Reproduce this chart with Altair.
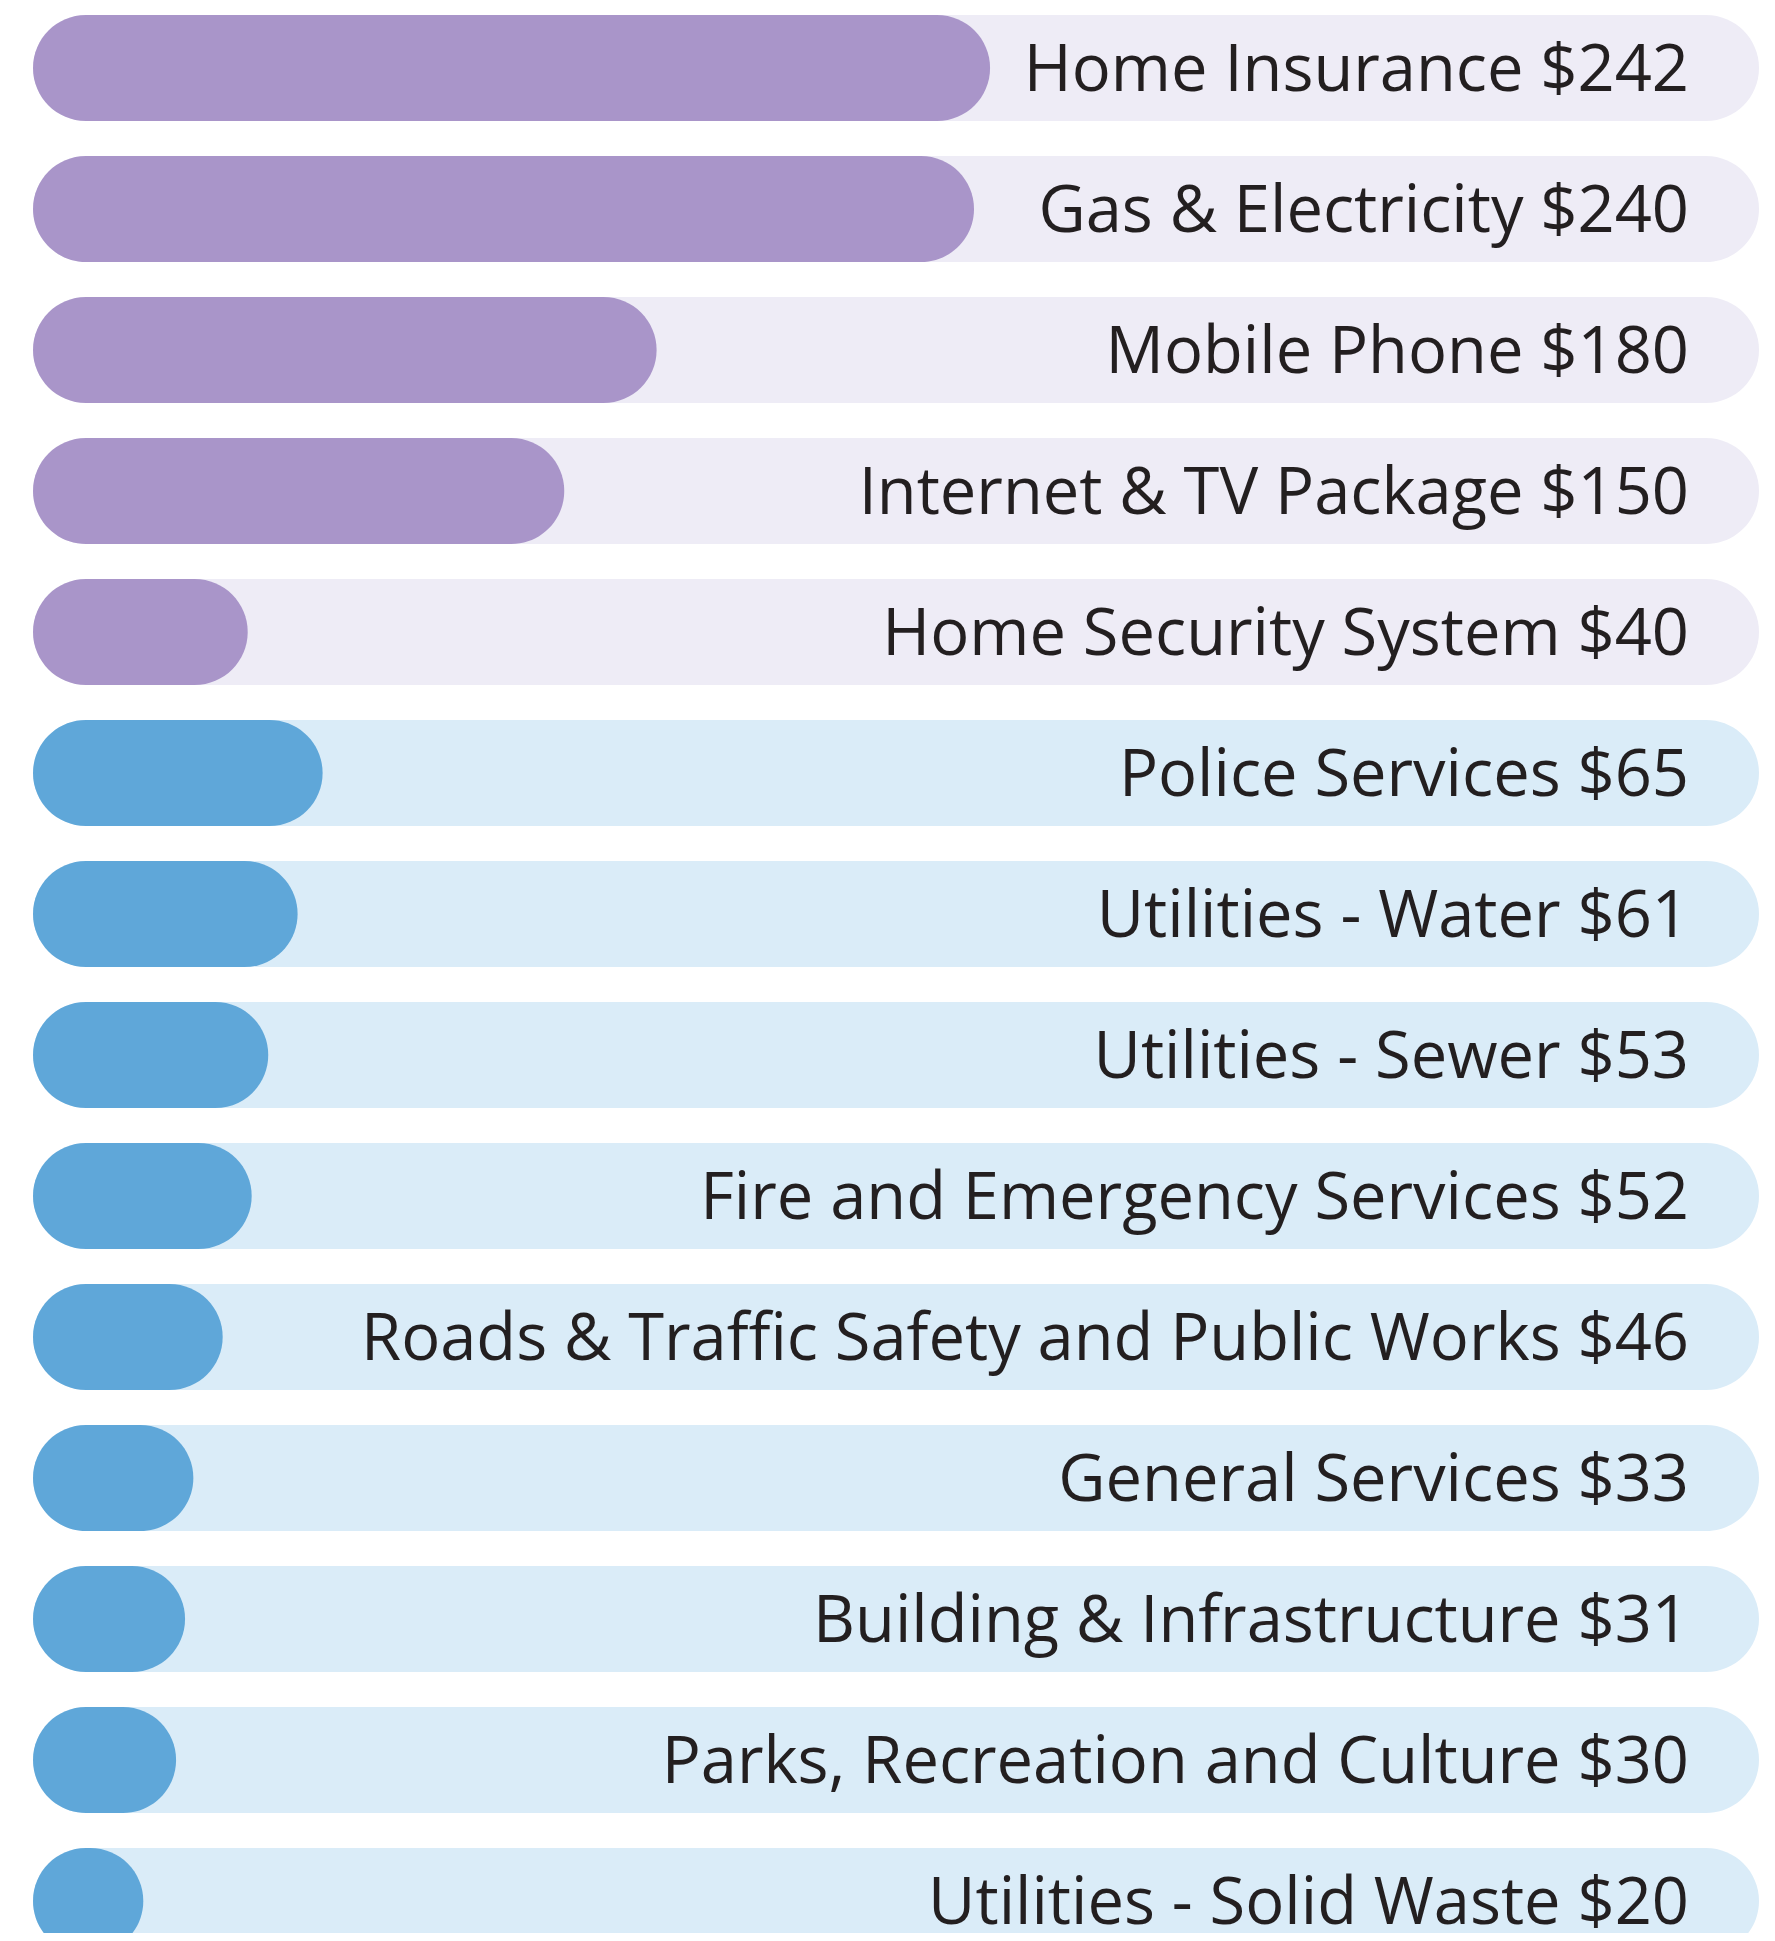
import altair as alt
import pandas as pd

categories = [
    "Home Insurance", "Gas & Electricity", "Mobile Phone", "Internet & TV Package",
    "Home Security System", "Police Services", "Utilities - Water", "Utilities - Sewer",
    "Fire and Emergency Services", "Roads & Traffic Safety and Public Works",
    "General Services", "Building & Infrastructure", "Parks, Recreation and Culture",
    "Utilities - Solid Waste",
]
amounts = [242, 240, 180, 150, 40, 65, 61, 53, 52, 46, 33, 31, 30, 20]
groups = ["Household"] * 5 + ["Municipal"] * 9
# bar fill as a share (%) of the full track
fill_pct = [55.45, 54.52, 36.13, 30.78, 12.44, 16.78, 15.33, 13.63, 12.67,
            10.99, 9.29, 8.81, 8.29, 6.39]
track_pct = [100] * len(categories)

tone_domain = ["Household track", "Municipal track", "Household bar", "Municipal bar"]
tone_colors = ["#EEECF6", "#DAECF8", "#A995C9", "#5FA7D9"]

df = pd.DataFrame({
    "category": categories,
    "amount": amounts,
    "group": groups,
    "share": fill_pct,
    "full": track_pct,
})
df["label"] = df["category"] + " $" + df["amount"].astype(str)
df["order"] = list(range(len(df)))
df["track_tone"] = df["group"] + " track"
df["bar_tone"] = df["group"] + " bar"

y_enc = alt.Y(
    "label:N",
    sort=alt.EncodingSortField(field="order", order="ascending"),
    scale=alt.Scale(range=[0, 1939], paddingInner=0.248, paddingOuter=0),
    axis=None,
)
x_scale = alt.Scale(domain=[0, 100], nice=False, zero=True)
color_scale = alt.Scale(domain=tone_domain, range=tone_colors)

base = alt.Chart(df)

track = base.mark_bar(cornerRadius=53, clip=True).encode(
    y=y_enc,
    x=alt.X("full:Q", scale=x_scale, axis=None, stack=None),
    color=alt.Color("track_tone:N", scale=color_scale, legend=None),
)

fill = base.mark_bar(cornerRadius=53, clip=True).encode(
    y=y_enc,
    x=alt.X("share:Q", scale=x_scale, axis=None, stack=None),
    color=alt.Color("bar_tone:N", scale=color_scale, legend=None),
)

text = base.mark_text(
    align="right", baseline="alphabetic", dx=-70, dy=23,
    font="Open Sans", fontSize=65, color="#231F20",
).encode(
    y=y_enc,
    x=alt.X("full:Q", scale=x_scale, axis=None),
    text="label:N",
)

chart = alt.layer(track, fill, text).properties(
    width=1726,
    height=1918,
    padding={"left": 25, "top": 7, "right": 8, "bottom": 0},
).configure_view(stroke=None)

chart.save("out.html", embed_options={"renderer": "svg", "actions": False})
